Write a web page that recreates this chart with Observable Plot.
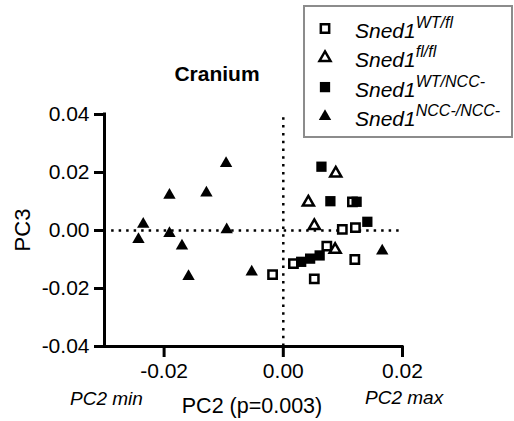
<!DOCTYPE html>
<html>
<head>
<meta charset="utf-8">
<script src="https://cdn.jsdelivr.net/npm/d3@7"></script>
<script src="https://cdn.jsdelivr.net/npm/@observablehq/plot@0.6"></script>
<style>
  html, body { margin: 0; padding: 0; background: #fff; }
  #wrap { position: relative; width: 514px; height: 421px; font-family: "Liberation Sans", Arial, sans-serif; }
  #wrap > svg { position: absolute; left: 0; top: 0; }
</style>
</head>
<body>
<div id="wrap"></div>
<script>
// Groups (legend order)
const groups = ["WT/fl", "fl/fl", "WT/NCC-", "NCC-/NCC-"];
// Sned1 WT/fl (open squares)
const wtflX = [-0.0018, 0.0017, 0.0052, 0.0073, 0.0099, 0.0121, 0.0120, 0.0116];
const wtflY = [-0.0152, -0.0114, -0.0167, -0.0054, 0.0004, 0.0010, -0.0100, 0.0099];
// Sned1 fl/fl (open triangles)
const flflX = [0.0088, 0.0042, 0.0052, 0.0087];
const flflY = [0.0197, 0.0097, 0.0016, -0.0066];
// Sned1 WT/NCC- (filled squares)
const wtnccX = [0.0064, 0.0079, 0.0123, 0.0141, 0.0030, 0.0045, 0.0061];
const wtnccY = [0.0220, 0.0101, 0.0099, 0.0030, -0.0108, -0.0097, -0.0086];
// Sned1 NCC-/NCC- (filled triangles)
const nccX = [-0.0096, -0.0191, -0.0129, -0.0235, -0.0243, -0.0191, -0.0170, -0.0159, -0.0095, -0.0053, 0.0166];
const nccY = [0.0231, 0.0122, 0.0130, 0.0022, -0.0031, -0.0010, -0.0053, -0.0158, 0.0003, -0.0143, -0.0070];
// Axes
const xTicks = [-0.02, 0, 0.02];
const yTicks = [-0.04, -0.02, 0, 0.02, 0.04];
const xDomain = [-0.03, 0.02];
const yDomain = [-0.04, 0.04];

const toRows = (xs, ys, g) => xs.map((x, i) => ({x, y: ys[i], group: g}));
const wtfl = toRows(wtflX, wtflY, groups[0]);
const flfl = toRows(flflX, flflY, groups[1]);
const wtncc = toRows(wtnccX, wtnccY, groups[2]);
const ncc = toRows(nccX, nccY, groups[3]);

const fmt = d => d.toFixed(2);

const chart = Plot.plot({
  width: 514,
  height: 421,
  marginLeft: 104,
  marginRight: 112,
  marginTop: 114,
  marginBottom: 75,
  x: {domain: xDomain},
  y: {domain: yDomain},
  style: {fontFamily: "'Liberation Sans', Arial, sans-serif", fontSize: "21px", color: "black", background: "transparent", overflow: "visible"},
  marks: [
    Plot.ruleY([0], {x1: xDomain[0] + 0.0012, x2: xDomain[1] - 0.0005, stroke: "black", strokeWidth: 2.5, strokeDasharray: "2.5,5"}),
    Plot.ruleX([0], {y1: yDomain[0], y2: yDomain[1], stroke: "black", strokeWidth: 2.5, strokeDasharray: "2.5,5.3"}),
    Plot.axisX({ticks: xTicks, tickSize: 11, tickPadding: 6, strokeWidth: 3, tickFormat: fmt, label: null, fontSize: 21}),
    Plot.axisY({ticks: yTicks, tickSize: 10, tickPadding: 5, strokeWidth: 3, tickFormat: fmt, label: null, fontSize: 21}),
    Plot.ruleX([xDomain[0]], {y1: yDomain[0], y2: yDomain[1], stroke: "black", strokeWidth: 3, strokeLinecap: "square"}),
    Plot.ruleY([yDomain[0]], {x1: xDomain[0], x2: xDomain[1], stroke: "black", strokeWidth: 3, strokeLinecap: "square"}),
    Plot.dot(wtfl, {x: "x", y: "y", symbol: "square", r: 4.7, fill: "white", stroke: "black", strokeWidth: 2.5}),
    Plot.dot(flfl, {x: "x", y: "y", symbol: "triangle", r: 4.1, fill: "white", stroke: "black", strokeWidth: 2.5}),
    Plot.dot(wtncc, {x: "x", y: "y", symbol: "square", r: 5.8, fill: "black", stroke: "none"}),
    Plot.dot(ncc, {x: "x", y: "y", symbol: "triangle", r: 4.6, fill: "black", stroke: "none"})
  ]
});

const wrap = document.getElementById("wrap");
wrap.appendChild(chart);

// Overlay: title, axis titles, legend
const ov = d3.create("svg").attr("width", 514).attr("height", 421)
  .style("font-family", "'Liberation Sans', Arial, sans-serif");

ov.append("text").attr("x", 217).attr("y", 81).attr("text-anchor", "middle")
  .attr("font-size", 21).attr("font-weight", "bold").text("Cranium");
ov.append("text").attr("transform", "translate(30,230) rotate(-90)").attr("text-anchor", "middle")
  .attr("font-size", 22).text("PC3");
ov.append("text").attr("x", 252).attr("y", 413).attr("text-anchor", "middle")
  .attr("font-size", 21.5).text("PC2 (p=0.003)");
ov.append("text").attr("x", 70).attr("y", 405).attr("font-size", 19).attr("font-style", "italic").text("PC2 min");
ov.append("text").attr("x", 365).attr("y", 404).attr("font-size", 19).attr("font-style", "italic").text("PC2 max");

// Legend
const lg = ov.append("g");
lg.append("rect").attr("x", 304).attr("y", 6).attr("width", 208).attr("height", 131)
  .attr("fill", "white").attr("stroke", "#8c8c8c").attr("stroke-width", 2);
const legendSyms = [
  {sym: d3.symbolSquare, r: 4.7, fill: "white", stroke: "black"},
  {sym: d3.symbolTriangle, r: 4.1, fill: "white", stroke: "black"},
  {sym: d3.symbolSquare, r: 5.8, fill: "black", stroke: "none"},
  {sym: d3.symbolTriangle, r: 4.6, fill: "black", stroke: "none"}
];
groups.forEach((g, i) => {
  const cy = 28.5 + i * 29.3;
  const s = legendSyms[i];
  lg.append("path").attr("transform", `translate(325,${cy})`)
    .attr("d", d3.symbol(s.sym, Math.PI * s.r * s.r)())
    .attr("fill", s.fill).attr("stroke", s.stroke).attr("stroke-width", 2.5);
  const t = lg.append("text").attr("x", 355).attr("y", cy + 9.5).attr("font-size", 21).attr("font-style", "italic");
  t.append("tspan").text("Sned1");
  t.append("tspan").attr("font-size", 16).attr("dy", -10).text(g);
});

wrap.appendChild(ov.node());
</script>
</body>
</html>
